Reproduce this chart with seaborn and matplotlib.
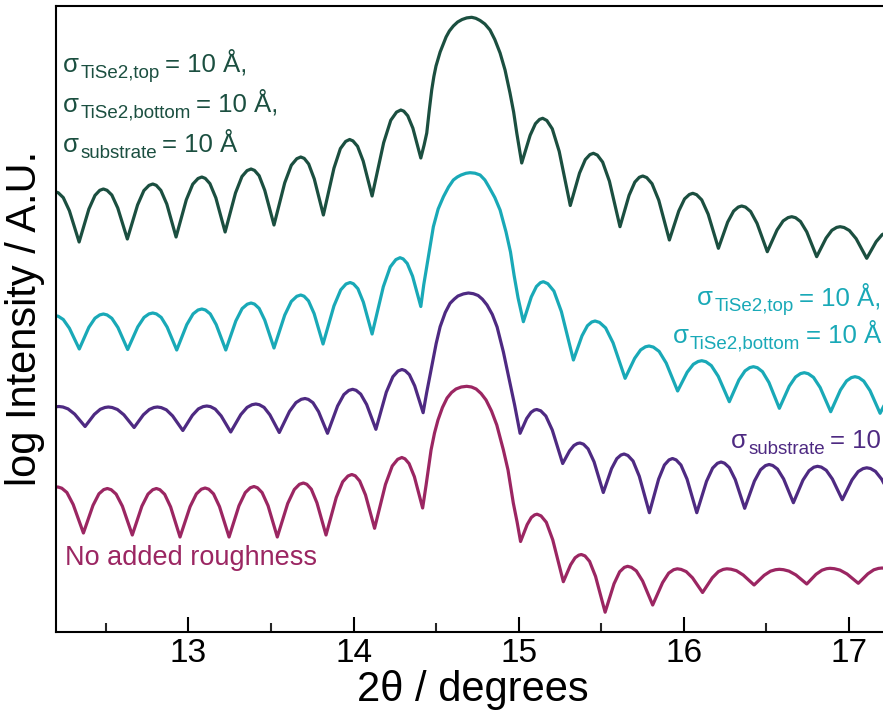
import matplotlib
matplotlib.use("Agg")
import matplotlib.pyplot as plt
import matplotlib.transforms as mtransforms
from matplotlib.ticker import MultipleLocator
import seaborn as sns

# Simulated XRR fringes around the TiSe2 Bragg peak for four roughness models.
# Each series: (2-theta in degrees, log intensity in arbitrary offset units).

# sigma_TiSe2,top = sigma_TiSe2,bottom = sigma_substrate = 10 A
all_rough = [
    (12.190, 440.0), (12.212, 438.7), (12.242, 433.9), (12.279, 420.8), (12.338, 389.5),
    (12.397, 422.4), (12.434, 436.1), (12.463, 441.2), (12.485, 442.5), (12.507, 441.2),
    (12.536, 436.5), (12.572, 423.5), (12.630, 392.5), (12.692, 426.6), (12.730, 440.9),
    (12.761, 446.1), (12.784, 447.5), (12.805, 446.2), (12.833, 441.1), (12.869, 427.4),
    (12.925, 394.5), (12.987, 431.7), (13.026, 447.3), (13.058, 453.0), (13.081, 454.5),
    (13.102, 453.1), (13.130, 447.9), (13.166, 433.6), (13.222, 399.5), (13.285, 438.6),
    (13.324, 455.0), (13.355, 460.9), (13.379, 462.5), (13.400, 461.1), (13.428, 455.8),
    (13.462, 441.2), (13.518, 406.5), (13.583, 448.7), (13.623, 466.3), (13.656, 472.8),
    (13.680, 474.5), (13.701, 473.1), (13.728, 467.5), (13.762, 452.5), (13.817, 416.5),
    (13.881, 463.3), (13.920, 482.9), (13.952, 490.1), (13.976, 492.0), (13.996, 490.6),
    (14.024, 485.2), (14.058, 470.5), (14.112, 435.5), (14.182, 488.8), (14.225, 511.2),
    (14.260, 519.4), (14.286, 521.5), (14.304, 520.3), (14.328, 515.7), (14.359, 503.3),
    (14.407, 473.5), (14.427, 486.5), (14.443, 498.5), (14.458, 521.0), (14.473, 541.5),
    (14.486, 555.0), (14.499, 565.5), (14.524, 579.5), (14.560, 594.5), (14.580, 600.5),
    (14.604, 605.5), (14.630, 609.5), (14.657, 612.0), (14.685, 613.6), (14.715, 614.2),
    (14.740, 613.2), (14.766, 611.0), (14.795, 607.5), (14.826, 601.5), (14.855, 592.0),
    (14.887, 578.5), (14.917, 561.5), (14.947, 538.5), (14.969, 519.5), (14.988, 498.5),
    (15.018, 468.5), (15.069, 496.2), (15.101, 507.8), (15.126, 512.1), (15.145, 513.2),
    (15.170, 511.0), (15.203, 502.7), (15.245, 480.1), (15.312, 426.0), (15.368, 458.4),
    (15.403, 471.9), (15.431, 476.9), (15.452, 478.2), (15.476, 476.4), (15.508, 469.4),
    (15.549, 450.3), (15.613, 404.8), (15.668, 436.2), (15.703, 449.4), (15.730, 454.2),
    (15.751, 455.5), (15.775, 453.9), (15.807, 447.8), (15.848, 431.2), (15.912, 391.5),
    (15.969, 420.5), (16.004, 432.6), (16.033, 437.0), (16.054, 438.2), (16.077, 436.8),
    (16.108, 431.6), (16.147, 417.3), (16.209, 383.2), (16.265, 409.4), (16.301, 420.4),
    (16.329, 424.4), (16.350, 425.5), (16.373, 424.4), (16.404, 420.0), (16.443, 408.1),
    (16.505, 379.8), (16.564, 401.5), (16.601, 410.6), (16.631, 413.9), (16.653, 414.8),
    (16.676, 413.8), (16.706, 410.0), (16.744, 399.6), (16.804, 374.8), (16.861, 393.4),
    (16.896, 401.2), (16.925, 404.1), (16.946, 404.8), (16.970, 404.0), (17.002, 401.0),
    (17.043, 392.8), (17.107, 373.2), (17.164, 389.8), (17.200, 396.8), (17.229, 399.3),
    (17.250, 400.0),
]

# sigma_TiSe2,top = sigma_TiSe2,bottom = 10 A
film_rough = [
    (12.190, 316.0), (12.212, 315.2), (12.242, 312.0), (12.279, 303.3), (12.339, 282.5),
    (12.397, 304.2), (12.434, 313.3), (12.463, 316.6), (12.485, 317.5), (12.507, 316.6),
    (12.536, 313.2), (12.573, 304.0), (12.632, 282.0), (12.693, 304.6), (12.731, 314.1),
    (12.761, 317.6), (12.784, 318.5), (12.806, 317.6), (12.835, 314.1), (12.871, 304.4),
    (12.929, 281.5), (12.990, 306.9), (13.028, 317.6), (13.058, 321.5), (13.081, 322.5),
    (13.103, 321.5), (13.132, 317.6), (13.168, 306.9), (13.226, 281.5), (13.287, 310.6),
    (13.325, 322.9), (13.356, 327.3), (13.379, 328.5), (13.400, 327.4), (13.428, 323.1),
    (13.462, 311.4), (13.518, 283.5), (13.583, 316.4), (13.623, 330.1), (13.656, 335.2),
    (13.680, 336.5), (13.700, 335.3), (13.727, 330.6), (13.761, 317.9), (13.815, 287.5),
    (13.881, 325.6), (13.922, 341.6), (13.954, 347.5), (13.979, 349.0), (13.999, 347.7),
    (14.026, 342.8), (14.059, 329.4), (14.112, 297.5), (14.180, 344.8), (14.222, 364.6),
    (14.256, 371.9), (14.281, 373.8), (14.300, 372.6), (14.325, 368.0), (14.357, 355.3),
    (14.407, 325.0), (14.425, 347.0), (14.443, 364.8), (14.483, 404.8), (14.512, 422.5),
    (14.544, 434.8), (14.575, 444.5), (14.604, 451.5), (14.628, 454.5), (14.651, 456.5),
    (14.680, 458.2), (14.705, 458.8), (14.735, 458.3), (14.766, 456.5), (14.795, 451.5),
    (14.820, 444.5), (14.855, 434.0), (14.887, 421.5), (14.923, 399.5), (14.950, 379.5),
    (14.972, 356.0), (14.996, 333.5), (15.028, 309.8), (15.076, 334.6), (15.107, 345.0),
    (15.131, 348.8), (15.149, 349.8), (15.176, 347.8), (15.213, 340.4), (15.258, 320.0),
    (15.331, 271.5), (15.383, 295.7), (15.416, 305.8), (15.442, 309.5), (15.462, 310.5),
    (15.489, 309.1), (15.526, 303.6), (15.571, 288.7), (15.644, 253.2), (15.702, 273.2),
    (15.738, 281.6), (15.767, 284.7), (15.789, 285.5), (15.815, 284.4), (15.850, 280.1),
    (15.893, 268.4), (15.962, 240.5), (16.020, 259.3), (16.057, 267.2), (16.086, 270.0),
    (16.108, 270.8), (16.133, 269.8), (16.166, 265.9), (16.208, 255.2), (16.275, 229.8),
    (16.333, 251.5), (16.370, 260.6), (16.399, 263.9), (16.421, 264.8), (16.445, 263.8),
    (16.476, 259.8), (16.515, 249.0), (16.578, 223.2), (16.638, 245.3), (16.676, 254.5),
    (16.706, 257.9), (16.729, 258.8), (16.753, 257.8), (16.785, 254.1), (16.825, 244.0),
    (16.889, 219.8), (16.948, 241.5), (16.985, 250.6), (17.014, 253.9), (17.036, 254.8),
    (17.059, 253.9), (17.089, 250.4), (17.127, 240.9), (17.188, 218.2), (17.258, 241.0),
]

# sigma_substrate = 10 A
substrate_rough = [
    (12.190, 224.6), (12.216, 225.0), (12.240, 224.5), (12.271, 222.6), (12.311, 217.4),
    (12.374, 205.0), (12.430, 217.1), (12.466, 222.2), (12.494, 224.0), (12.515, 224.5),
    (12.538, 224.0), (12.570, 222.0), (12.609, 216.7), (12.671, 204.0), (12.727, 216.7),
    (12.763, 222.0), (12.791, 224.0), (12.812, 224.5), (12.835, 223.9), (12.866, 221.7),
    (12.904, 215.6), (12.966, 201.0), (13.024, 216.2), (13.060, 222.6), (13.089, 224.9),
    (13.111, 225.5), (13.133, 224.9), (13.162, 222.4), (13.198, 215.6), (13.256, 199.5),
    (13.317, 216.9), (13.355, 224.1), (13.385, 226.8), (13.408, 227.5), (13.429, 226.8),
    (13.458, 224.1), (13.493, 216.7), (13.550, 199.0), (13.612, 220.1), (13.651, 228.9),
    (13.683, 232.2), (13.706, 233.0), (13.726, 232.1), (13.754, 228.8), (13.788, 219.8),
    (13.842, 198.2), (13.903, 225.5), (13.941, 236.9), (13.971, 241.1), (13.994, 242.2),
    (14.015, 241.2), (14.043, 237.4), (14.079, 227.0), (14.135, 202.2), (14.198, 239.3),
    (14.238, 254.8), (14.269, 260.5), (14.293, 262.0), (14.312, 260.9), (14.338, 256.8),
    (14.370, 245.6), (14.421, 218.8), (14.442, 238.5), (14.473, 264.8), (14.500, 288.0),
    (14.524, 304.8), (14.555, 319.0), (14.584, 328.2), (14.610, 332.5), (14.632, 335.5),
    (14.665, 337.6), (14.695, 338.5), (14.725, 337.8), (14.754, 336.0), (14.780, 332.3),
    (14.808, 326.5), (14.840, 317.0), (14.869, 304.5), (14.907, 279.5), (14.947, 248.5),
    (14.975, 226.5), (15.008, 198.2), (15.048, 213.0), (15.074, 219.1), (15.094, 221.4),
    (15.109, 222.0), (15.133, 220.7), (15.164, 215.5), (15.203, 201.5), (15.266, 168.0),
    (15.308, 180.7), (15.334, 186.0), (15.355, 188.0), (15.371, 188.5), (15.392, 187.3),
    (15.420, 182.6), (15.456, 169.7), (15.512, 139.0), (15.562, 162.9), (15.594, 172.9),
    (15.619, 176.5), (15.638, 177.5), (15.661, 176.0), (15.692, 170.5), (15.730, 155.2),
    (15.791, 118.8), (15.847, 152.4), (15.882, 166.5), (15.910, 171.6), (15.931, 173.0),
    (15.953, 171.6), (15.982, 166.5), (16.019, 152.4), (16.078, 118.8), (16.137, 150.2),
    (16.174, 163.4), (16.203, 168.2), (16.225, 169.5), (16.246, 168.3), (16.275, 163.9),
    (16.311, 151.9), (16.368, 123.2), (16.427, 150.4), (16.464, 161.7), (16.494, 165.9),
    (16.516, 167.0), (16.538, 166.0), (16.567, 162.4), (16.604, 152.5), (16.663, 128.8),
    (16.721, 151.4), (16.758, 160.8), (16.787, 164.3), (16.809, 165.2), (16.832, 164.4),
    (16.862, 161.2), (16.899, 152.5), (16.959, 131.8), (17.018, 151.6), (17.055, 159.9),
    (17.085, 162.9), (17.107, 163.7), (17.130, 163.0), (17.160, 160.1), (17.197, 152.4),
    (17.257, 134.0),
]

# no added roughness
no_rough = [
    (12.190, 144.2), (12.210, 144.5), (12.233, 143.3), (12.264, 139.0), (12.302, 127.0),
    (12.364, 98.5), (12.422, 126.1), (12.458, 137.7), (12.487, 141.9), (12.509, 143.0),
    (12.532, 141.8), (12.562, 137.4), (12.600, 125.3), (12.660, 96.5), (12.718, 125.3),
    (12.755, 137.4), (12.784, 141.8), (12.806, 143.0), (12.827, 141.8), (12.856, 137.2),
    (12.892, 124.6), (12.949, 94.5), (13.010, 124.9), (13.048, 137.6), (13.078, 142.3),
    (13.101, 143.5), (13.123, 142.3), (13.152, 137.6), (13.188, 124.9), (13.246, 94.5),
    (13.306, 125.8), (13.344, 138.9), (13.374, 143.7), (13.397, 145.0), (13.418, 143.7),
    (13.446, 138.9), (13.482, 125.8), (13.538, 94.5), (13.601, 128.0), (13.641, 142.0),
    (13.672, 147.2), (13.696, 148.5), (13.717, 147.2), (13.744, 142.3), (13.778, 128.7),
    (13.833, 96.5), (13.895, 134.0), (13.934, 149.7), (13.966, 155.5), (13.989, 157.0),
    (14.010, 155.7), (14.037, 150.5), (14.072, 136.6), (14.127, 103.2), (14.193, 147.1),
    (14.234, 165.5), (14.267, 172.2), (14.292, 174.0), (14.311, 172.7), (14.336, 167.9),
    (14.368, 154.8), (14.418, 123.5), (14.439, 146.5), (14.469, 181.5), (14.490, 198.5),
    (14.511, 211.5), (14.538, 224.0), (14.566, 233.5), (14.593, 239.0), (14.620, 242.5),
    (14.652, 244.5), (14.685, 245.2), (14.714, 244.5), (14.742, 242.5), (14.772, 238.0),
    (14.802, 231.5), (14.835, 220.5), (14.867, 206.5), (14.907, 181.5), (14.935, 161.5),
    (14.967, 128.5), (14.990, 109.5), (15.011, 90.0), (15.051, 106.9), (15.076, 114.0),
    (15.096, 116.6), (15.111, 117.3), (15.135, 115.6), (15.167, 109.2), (15.206, 91.6),
    (15.270, 49.8), (15.314, 66.7), (15.341, 73.7), (15.363, 76.3), (15.379, 77.0),
    (15.401, 75.6), (15.429, 70.1), (15.465, 55.1), (15.523, 19.3), (15.577, 47.8),
    (15.611, 59.7), (15.639, 64.1), (15.659, 65.2), (15.682, 64.2), (15.712, 60.6),
    (15.750, 50.5), (15.811, 26.5), (15.871, 48.9), (15.908, 58.4), (15.938, 61.8),
    (15.960, 62.7), (15.983, 62.1), (16.014, 59.9), (16.052, 53.7), (16.113, 39.0),
    (16.172, 53.7), (16.209, 59.9), (16.238, 62.1), (16.260, 62.7), (16.285, 62.3),
    (16.318, 60.8), (16.359, 56.5), (16.425, 46.5), (16.486, 56.2), (16.524, 60.3),
    (16.555, 61.8), (16.578, 62.2), (16.603, 61.8), (16.636, 60.4), (16.678, 56.6),
    (16.744, 47.5), (16.800, 57.2), (16.836, 61.3), (16.864, 62.8), (16.885, 63.2),
    (16.911, 62.8), (16.945, 61.4), (16.988, 57.5), (17.056, 48.2), (17.114, 57.7),
    (17.150, 61.7), (17.178, 63.1), (17.200, 63.5), (17.260, 62.0),
]

x_ticks = [13, 14, 15, 16, 17]
x_tick_labels = ["13", "14", "15", "16", "17"]

GREEN = "#1b4f40"
CYAN = "#19a9b7"
PURPLE = "#4e2a82"
MAGENTA = "#9b2662"

sns.set_style("ticks")
plt.rcParams["font.family"] = ["Liberation Sans", "DejaVu Sans"]

fig = plt.figure(figsize=(8.83, 7.10), dpi=100)
ax = fig.add_axes([0.06342, 0.11056, 0.94451, 0.88099])

curves = [(all_rough, GREEN), (film_rough, CYAN),
          (substrate_rough, PURPLE), (no_rough, MAGENTA)]
for series, col in curves:
    xs = [p[0] for p in series]
    ys = [p[1] for p in series]
    sns.lineplot(x=xs, y=ys, ax=ax, color=col, linewidth=2.3,
                 sort=False, errorbar=None,
                 solid_joinstyle="round", solid_capstyle="round")

ax.set_xlim(12.198, 17.248)
ax.set_ylim(0, 625.5)

ax.set_xticks(x_ticks)
ax.set_xticklabels(x_tick_labels)
ax.xaxis.set_minor_locator(MultipleLocator(0.5))
ax.tick_params(axis="x", which="major", direction="in", length=10.5, width=1.5,
               labelsize=24, pad=5.0, colors="black", top=False)
ax.tick_params(axis="x", which="minor", direction="in", length=6.3, width=1.5,
               top=False)
ax.set_yticks([])

for side in ["left", "top", "bottom", "right"]:
    ax.spines[side].set_linewidth(1.5)
    ax.spines[side].set_color("black")

ax.set_xlabel("2θ / degrees", fontsize=30, labelpad=0.5, color="black")
ax.set_ylabel("log Intensity / A.U.", fontsize=30, labelpad=8, color="black")

renderer = fig.canvas.get_renderer()


def sigma_label(x, y, subscript, tail, color, size=18.5, sub_size=13.5,
                sub_drop=4.2):
    """Write 'sigma_sub = value' at a data position, baseline aligned."""
    parts = [("σ", size, 0.0, 0.0),
             (subscript, sub_size, -sub_drop, 0.8),
             (tail, size, 0.0, 4.0)]
    x_off = 0.0
    for text, fs, dy, gap in parts:
        x_off += gap
        tr = mtransforms.offset_copy(ax.transData, fig=fig, x=x_off, y=dy,
                                     units="points")
        t = ax.text(x, y, text, transform=tr, fontsize=fs, color=color,
                    va="baseline", ha="left", clip_on=False)
        x_off += t.get_window_extent(renderer).width * 72.0 / fig.dpi


sigma_label(12.241, 559.5, "TiSe2,top", "= 10 Å,", GREEN)
sigma_label(12.241, 519.5, "TiSe2,bottom", "= 10 Å,", GREEN)
sigma_label(12.241, 479.5, "substrate", "= 10 Å", GREEN)

sigma_label(16.080, 326.5, "TiSe2,top", "= 10 Å,", CYAN)
sigma_label(15.934, 289.0, "TiSe2,bottom", "= 10 Å,", CYAN)

sigma_label(16.286, 183.5, "substrate", "= 10 Å", PURPLE)

ax.text(12.253, 66.5, "No added roughness", color=MAGENTA, fontsize=19.5,
        va="baseline", ha="left")

fig.savefig("out.png", dpi=100)
